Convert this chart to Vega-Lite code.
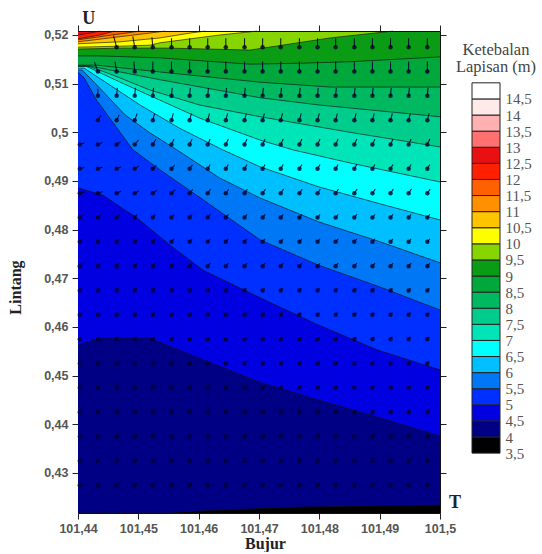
{"$schema":"https://vega.github.io/schema/vega-lite/v6.json","padding":{"left":7,"top":10,"right":0,"bottom":0},"background":"white","bounds":"flush","spacing":32,
"config":{"view":{"stroke":null},"axis":{"grid":false,"labelFont":"Liberation Sans","labelFontWeight":"bold","labelFontSize":12.5,"labelColor":"#555","tickColor":"#222","domainColor":"#111","tickSize":6,"labelFlush":false,"titleFont":"Liberation Serif","titleFontWeight":"bold","titleFontSize":16,"titleColor":"#222"}},
"datasets":{
"contours":[
{"level":3.5,"lon":101.44,"lat":0.4218},{"level":3.5,"lon":101.5,"lat":0.4218},
{"level":4,"lon":101.44,"lat":0.4218},{"level":4,"lon":101.4552,"lat":0.4218},{"level":4,"lon":101.4602,"lat":0.4222},{"level":4,"lon":101.4768,"lat":0.423},{"level":4,"lon":101.5,"lat":0.4234},
{"level":4.5,"lon":101.44,"lat":0.4563},{"level":4.5,"lon":101.4436,"lat":0.4577},{"level":4.5,"lon":101.4519,"lat":0.4577},{"level":4.5,"lon":101.4601,"lat":0.4536},{"level":4.5,"lon":101.47,"lat":0.4487},{"level":4.5,"lon":101.4799,"lat":0.445},{"level":4.5,"lon":101.4901,"lat":0.4413},{"level":4.5,"lon":101.5,"lat":0.4376},
{"level":5,"lon":101.44,"lat":0.4886},{"level":5,"lon":101.4441,"lat":0.4871},{"level":5,"lon":101.4498,"lat":0.4824},{"level":5,"lon":101.4552,"lat":0.4769},{"level":5,"lon":101.4607,"lat":0.4717},{"level":5,"lon":101.4702,"lat":0.466},{"level":5,"lon":101.4799,"lat":0.4604},{"level":5,"lon":101.4896,"lat":0.4553},{"level":5,"lon":101.5,"lat":0.4512},
{"level":5.5,"lon":101.44,"lat":0.5124},{"level":5.5,"lon":101.441,"lat":0.5112},{"level":5.5,"lon":101.4431,"lat":0.5066},{"level":5.5,"lon":101.4461,"lat":0.5015},{"level":5.5,"lon":101.4491,"lat":0.4964},{"level":5.5,"lon":101.4536,"lat":0.4923},{"level":5.5,"lon":101.4601,"lat":0.4867},{"level":5.5,"lon":101.4702,"lat":0.4779},{"level":5.5,"lon":101.4799,"lat":0.4727},{"level":5.5,"lon":101.4901,"lat":0.4682},{"level":5.5,"lon":101.5,"lat":0.4635},
{"level":6,"lon":101.44,"lat":0.5128},{"level":6,"lon":101.4407,"lat":0.5128},{"level":6,"lon":101.4436,"lat":0.5091},{"level":6,"lon":101.4478,"lat":0.5036},{"level":6,"lon":101.4519,"lat":0.4999},{"level":6,"lon":101.4564,"lat":0.4964},{"level":6,"lon":101.4635,"lat":0.4906},{"level":6,"lon":101.4702,"lat":0.4865},{"level":6,"lon":101.4799,"lat":0.4816},{"level":6,"lon":101.4901,"lat":0.4775},{"level":6,"lon":101.5,"lat":0.4732},
{"level":6.5,"lon":101.44,"lat":0.5132},{"level":6.5,"lon":101.441,"lat":0.5132},{"level":6.5,"lon":101.4453,"lat":0.5097},{"level":6.5,"lon":101.4503,"lat":0.5056},{"level":6.5,"lon":101.4569,"lat":0.5008},{"level":6.5,"lon":101.464,"lat":0.4964},{"level":6.5,"lon":101.4702,"lat":0.4929},{"level":6.5,"lon":101.4799,"lat":0.4888},{"level":6.5,"lon":101.4901,"lat":0.4853},{"level":6.5,"lon":101.5,"lat":0.482},
{"level":7,"lon":101.44,"lat":0.5136},{"level":7,"lon":101.4413,"lat":0.5136},{"level":7,"lon":101.447,"lat":0.5103},{"level":7,"lon":101.4536,"lat":0.5066},{"level":7,"lon":101.4602,"lat":0.5029},{"level":7,"lon":101.4702,"lat":0.4984},{"level":7,"lon":101.4756,"lat":0.4964},{"level":7,"lon":101.4851,"lat":0.4937},{"level":7,"lon":101.5,"lat":0.4898},
{"level":7.5,"lon":101.44,"lat":0.5136},{"level":7.5,"lon":101.4417,"lat":0.5136},{"level":7.5,"lon":101.4453,"lat":0.512},{"level":7.5,"lon":101.4519,"lat":0.5087},{"level":7.5,"lon":101.4602,"lat":0.5056},{"level":7.5,"lon":101.4702,"lat":0.5032},{"level":7.5,"lon":101.4851,"lat":0.5},{"level":7.5,"lon":101.5,"lat":0.497},
{"level":8,"lon":101.44,"lat":0.5136},{"level":8,"lon":101.442,"lat":0.5136},{"level":8,"lon":101.447,"lat":0.5124},{"level":8,"lon":101.4536,"lat":0.5108},{"level":8,"lon":101.4702,"lat":0.5071},{"level":8,"lon":101.4801,"lat":0.5056},{"level":8,"lon":101.5,"lat":0.5032},
{"level":8.5,"lon":101.44,"lat":0.5138},{"level":8.5,"lon":101.4415,"lat":0.5138},{"level":8.5,"lon":101.4431,"lat":0.5138},{"level":8.5,"lon":101.4536,"lat":0.5124},{"level":8.5,"lon":101.4702,"lat":0.5103},{"level":8.5,"lon":101.4818,"lat":0.5093},{"level":8.5,"lon":101.5,"lat":0.5093},
{"level":9,"lon":101.44,"lat":0.5157},{"level":9,"lon":101.4436,"lat":0.5157},{"level":9,"lon":101.4536,"lat":0.5153},{"level":9,"lon":101.4685,"lat":0.514},{"level":9,"lon":101.4768,"lat":0.5142},{"level":9,"lon":101.4851,"lat":0.5145},{"level":9,"lon":101.5,"lat":0.5155},
{"level":9.5,"lon":101.44,"lat":0.5171},{"level":9.5,"lon":101.447,"lat":0.5173},{"level":9.5,"lon":101.4552,"lat":0.5173},{"level":9.5,"lon":101.4685,"lat":0.5169},{"level":9.5,"lon":101.4818,"lat":0.5194},{"level":9.5,"lon":101.4922,"lat":0.5208},
{"level":10,"lon":101.44,"lat":0.5175},{"level":10,"lon":101.447,"lat":0.5177},{"level":10,"lon":101.4519,"lat":0.5179},{"level":10,"lon":101.4536,"lat":0.5184},{"level":10,"lon":101.4635,"lat":0.52},{"level":10,"lon":101.4697,"lat":0.5208},
{"level":10.5,"lon":101.44,"lat":0.5182},{"level":10.5,"lon":101.447,"lat":0.5186},{"level":10.5,"lon":101.4536,"lat":0.5194},{"level":10.5,"lon":101.4586,"lat":0.5204},{"level":10.5,"lon":101.4611,"lat":0.5208},
{"level":11,"lon":101.44,"lat":0.5186},{"level":11,"lon":101.4453,"lat":0.5194},{"level":11,"lon":101.4519,"lat":0.5204},{"level":11,"lon":101.4544,"lat":0.5208},
{"level":11.5,"lon":101.44,"lat":0.519},{"level":11.5,"lon":101.4445,"lat":0.5198},{"level":11.5,"lon":101.4503,"lat":0.5208},
{"level":12,"lon":101.44,"lat":0.5192},{"level":12,"lon":101.4436,"lat":0.52},{"level":12,"lon":101.4461,"lat":0.5208},
{"level":12.5,"lon":101.44,"lat":0.52},{"level":12.5,"lon":101.442,"lat":0.5204},{"level":12.5,"lon":101.4436,"lat":0.5208}
],
"arrows":[
{"lon":101.4464,"lat":0.5175,"m":12,"a":345},{"lon":101.4494,"lat":0.5175,"m":11,"a":350},{"lon":101.4524,"lat":0.5175,"m":10,"a":355},{"lon":101.4555,"lat":0.5175,"m":9,"a":0},{"lon":101.4585,"lat":0.5175,"m":9,"a":0},{"lon":101.4615,"lat":0.5175,"m":9,"a":0},{"lon":101.4645,"lat":0.5175,"m":9,"a":0},{"lon":101.4676,"lat":0.5175,"m":9,"a":0},{"lon":101.4706,"lat":0.5175,"m":9,"a":0},{"lon":101.4736,"lat":0.5175,"m":9,"a":0},{"lon":101.4767,"lat":0.5175,"m":9,"a":0},{"lon":101.4797,"lat":0.5175,"m":9,"a":0},{"lon":101.4827,"lat":0.5175,"m":9,"a":0},{"lon":101.4858,"lat":0.5175,"m":9,"a":0},{"lon":101.4888,"lat":0.5175,"m":9,"a":0},{"lon":101.4918,"lat":0.5175,"m":9,"a":0},{"lon":101.4948,"lat":0.5175,"m":9,"a":0},{"lon":101.4979,"lat":0.5175,"m":9,"a":0},
{"lon":101.4433,"lat":0.5125,"m":10,"a":340},{"lon":101.4464,"lat":0.5125,"m":10,"a":350},{"lon":101.4494,"lat":0.5125,"m":10,"a":355},{"lon":101.4524,"lat":0.5125,"m":10,"a":0},{"lon":101.4555,"lat":0.5125,"m":10,"a":0},{"lon":101.4585,"lat":0.5125,"m":10,"a":0},{"lon":101.4615,"lat":0.5125,"m":10,"a":0},{"lon":101.4645,"lat":0.5125,"m":10,"a":0},{"lon":101.4676,"lat":0.5125,"m":10,"a":0},{"lon":101.4706,"lat":0.5125,"m":10,"a":0},{"lon":101.4736,"lat":0.5125,"m":10,"a":0},{"lon":101.4767,"lat":0.5125,"m":10,"a":0},{"lon":101.4797,"lat":0.5125,"m":10,"a":0},{"lon":101.4827,"lat":0.5125,"m":10,"a":0},{"lon":101.4858,"lat":0.5125,"m":10,"a":0},{"lon":101.4888,"lat":0.5125,"m":10,"a":0},{"lon":101.4918,"lat":0.5125,"m":10,"a":0},{"lon":101.4948,"lat":0.5125,"m":10,"a":0},{"lon":101.4979,"lat":0.5125,"m":10,"a":0},
{"lon":101.4433,"lat":0.5075,"m":7,"a":0},{"lon":101.4464,"lat":0.5075,"m":8,"a":5},{"lon":101.4494,"lat":0.5075,"m":8,"a":5},{"lon":101.4524,"lat":0.5075,"m":8,"a":5},{"lon":101.4555,"lat":0.5075,"m":8,"a":5},{"lon":101.4585,"lat":0.5075,"m":8,"a":5},{"lon":101.4615,"lat":0.5075,"m":8,"a":5},{"lon":101.4645,"lat":0.5075,"m":8,"a":5},{"lon":101.4676,"lat":0.5075,"m":8,"a":5},{"lon":101.4706,"lat":0.5075,"m":8,"a":5},{"lon":101.4736,"lat":0.5075,"m":8,"a":5},{"lon":101.4767,"lat":0.5075,"m":8,"a":5},{"lon":101.4797,"lat":0.5075,"m":8,"a":5},{"lon":101.4827,"lat":0.5075,"m":8,"a":5},{"lon":101.4858,"lat":0.5075,"m":8,"a":5},{"lon":101.4888,"lat":0.5075,"m":8,"a":5},{"lon":101.4918,"lat":0.5075,"m":8,"a":5},{"lon":101.4948,"lat":0.5075,"m":8,"a":5},{"lon":101.4979,"lat":0.5075,"m":8,"a":5},
{"lon":101.4433,"lat":0.5025,"m":6,"a":30},{"lon":101.4464,"lat":0.5025,"m":6,"a":25},{"lon":101.4494,"lat":0.5025,"m":7,"a":20},{"lon":101.4524,"lat":0.5025,"m":7,"a":15},{"lon":101.4555,"lat":0.5025,"m":7,"a":15},{"lon":101.4585,"lat":0.5025,"m":7,"a":15},{"lon":101.4615,"lat":0.5025,"m":7,"a":15},{"lon":101.4645,"lat":0.5025,"m":7,"a":15},{"lon":101.4676,"lat":0.5025,"m":7,"a":15},{"lon":101.4706,"lat":0.5025,"m":7,"a":15},{"lon":101.4736,"lat":0.5025,"m":7,"a":15},{"lon":101.4767,"lat":0.5025,"m":7,"a":15},{"lon":101.4797,"lat":0.5025,"m":7,"a":15},{"lon":101.4827,"lat":0.5025,"m":7,"a":15},{"lon":101.4858,"lat":0.5025,"m":7,"a":15},{"lon":101.4888,"lat":0.5025,"m":7,"a":15},{"lon":101.4918,"lat":0.5025,"m":7,"a":15},{"lon":101.4948,"lat":0.5025,"m":7,"a":15},{"lon":101.4979,"lat":0.5025,"m":7,"a":15},
{"lon":101.4403,"lat":0.4975,"m":5,"a":70},{"lon":101.4433,"lat":0.4975,"m":5,"a":65},{"lon":101.4464,"lat":0.4975,"m":5,"a":55},{"lon":101.4494,"lat":0.4975,"m":6,"a":40},{"lon":101.4524,"lat":0.4975,"m":6,"a":30},{"lon":101.4555,"lat":0.4975,"m":6,"a":25},{"lon":101.4585,"lat":0.4975,"m":6,"a":25},{"lon":101.4615,"lat":0.4975,"m":6,"a":25},{"lon":101.4645,"lat":0.4975,"m":6,"a":25},{"lon":101.4676,"lat":0.4975,"m":6,"a":25},{"lon":101.4706,"lat":0.4975,"m":6,"a":25},{"lon":101.4736,"lat":0.4975,"m":6,"a":25},{"lon":101.4767,"lat":0.4975,"m":6,"a":25},{"lon":101.4797,"lat":0.4975,"m":6,"a":25},{"lon":101.4827,"lat":0.4975,"m":6,"a":25},{"lon":101.4858,"lat":0.4975,"m":6,"a":25},{"lon":101.4888,"lat":0.4975,"m":6,"a":25},{"lon":101.4918,"lat":0.4975,"m":6,"a":25},{"lon":101.4948,"lat":0.4975,"m":6,"a":25},{"lon":101.4979,"lat":0.4975,"m":6,"a":25},
{"lon":101.4403,"lat":0.4925,"m":5,"a":75},{"lon":101.4433,"lat":0.4925,"m":5,"a":70},{"lon":101.4464,"lat":0.4925,"m":5,"a":65},{"lon":101.4494,"lat":0.4925,"m":5,"a":55},{"lon":101.4524,"lat":0.4925,"m":5,"a":45},{"lon":101.4555,"lat":0.4925,"m":5,"a":40},{"lon":101.4585,"lat":0.4925,"m":5,"a":35},{"lon":101.4615,"lat":0.4925,"m":5,"a":30},{"lon":101.4645,"lat":0.4925,"m":5,"a":30},{"lon":101.4676,"lat":0.4925,"m":5,"a":30},{"lon":101.4706,"lat":0.4925,"m":5,"a":30},{"lon":101.4736,"lat":0.4925,"m":5,"a":30},{"lon":101.4767,"lat":0.4925,"m":5,"a":30},{"lon":101.4797,"lat":0.4925,"m":5,"a":30},{"lon":101.4827,"lat":0.4925,"m":5,"a":30},{"lon":101.4858,"lat":0.4925,"m":5,"a":30},{"lon":101.4888,"lat":0.4925,"m":5,"a":30},{"lon":101.4918,"lat":0.4925,"m":5,"a":30},{"lon":101.4948,"lat":0.4925,"m":5,"a":30},{"lon":101.4979,"lat":0.4925,"m":5,"a":30},
{"lon":101.4403,"lat":0.4875,"m":5,"a":75},{"lon":101.4433,"lat":0.4875,"m":5,"a":70},{"lon":101.4464,"lat":0.4875,"m":5,"a":65},{"lon":101.4494,"lat":0.4875,"m":5,"a":60},{"lon":101.4524,"lat":0.4875,"m":5,"a":55},{"lon":101.4555,"lat":0.4875,"m":5,"a":45},{"lon":101.4585,"lat":0.4875,"m":5,"a":40},{"lon":101.4615,"lat":0.4875,"m":5,"a":35},{"lon":101.4645,"lat":0.4875,"m":5,"a":35},{"lon":101.4676,"lat":0.4875,"m":5,"a":35},{"lon":101.4706,"lat":0.4875,"m":5,"a":35},{"lon":101.4736,"lat":0.4875,"m":5,"a":35},{"lon":101.4767,"lat":0.4875,"m":5,"a":35},{"lon":101.4797,"lat":0.4875,"m":5,"a":35},{"lon":101.4827,"lat":0.4875,"m":5,"a":35},{"lon":101.4858,"lat":0.4875,"m":5,"a":35},{"lon":101.4888,"lat":0.4875,"m":5,"a":35},{"lon":101.4918,"lat":0.4875,"m":5,"a":35},{"lon":101.4948,"lat":0.4875,"m":5,"a":35},{"lon":101.4979,"lat":0.4875,"m":5,"a":35},
{"lon":101.4403,"lat":0.4825,"m":4,"a":40},{"lon":101.4433,"lat":0.4825,"m":4,"a":40},{"lon":101.4464,"lat":0.4825,"m":4,"a":40},{"lon":101.4494,"lat":0.4825,"m":4,"a":40},{"lon":101.4524,"lat":0.4825,"m":4,"a":40},{"lon":101.4555,"lat":0.4825,"m":4,"a":40},{"lon":101.4585,"lat":0.4825,"m":4,"a":40},{"lon":101.4615,"lat":0.4825,"m":4,"a":40},{"lon":101.4645,"lat":0.4825,"m":4,"a":40},{"lon":101.4676,"lat":0.4825,"m":4,"a":40},{"lon":101.4706,"lat":0.4825,"m":4,"a":40},{"lon":101.4736,"lat":0.4825,"m":4,"a":40},{"lon":101.4767,"lat":0.4825,"m":4,"a":40},{"lon":101.4797,"lat":0.4825,"m":4,"a":40},{"lon":101.4827,"lat":0.4825,"m":4,"a":40},{"lon":101.4858,"lat":0.4825,"m":4,"a":40},{"lon":101.4888,"lat":0.4825,"m":4,"a":40},{"lon":101.4918,"lat":0.4825,"m":4,"a":40},{"lon":101.4948,"lat":0.4825,"m":4,"a":40},{"lon":101.4979,"lat":0.4825,"m":4,"a":40},
{"lon":101.4403,"lat":0.4775,"m":4,"a":40},{"lon":101.4433,"lat":0.4775,"m":4,"a":40},{"lon":101.4464,"lat":0.4775,"m":4,"a":40},{"lon":101.4494,"lat":0.4775,"m":4,"a":40},{"lon":101.4524,"lat":0.4775,"m":4,"a":40},{"lon":101.4555,"lat":0.4775,"m":4,"a":40},{"lon":101.4585,"lat":0.4775,"m":4,"a":40},{"lon":101.4615,"lat":0.4775,"m":4,"a":40},{"lon":101.4645,"lat":0.4775,"m":4,"a":40},{"lon":101.4676,"lat":0.4775,"m":4,"a":40},{"lon":101.4706,"lat":0.4775,"m":4,"a":40},{"lon":101.4736,"lat":0.4775,"m":4,"a":40},{"lon":101.4767,"lat":0.4775,"m":4,"a":40},{"lon":101.4797,"lat":0.4775,"m":4,"a":40},{"lon":101.4827,"lat":0.4775,"m":4,"a":40},{"lon":101.4858,"lat":0.4775,"m":4,"a":40},{"lon":101.4888,"lat":0.4775,"m":4,"a":40},{"lon":101.4918,"lat":0.4775,"m":4,"a":40},{"lon":101.4948,"lat":0.4775,"m":4,"a":40},{"lon":101.4979,"lat":0.4775,"m":4,"a":40},
{"lon":101.4403,"lat":0.4725,"m":4,"a":40},{"lon":101.4433,"lat":0.4725,"m":4,"a":40},{"lon":101.4464,"lat":0.4725,"m":4,"a":40},{"lon":101.4494,"lat":0.4725,"m":4,"a":40},{"lon":101.4524,"lat":0.4725,"m":4,"a":40},{"lon":101.4555,"lat":0.4725,"m":4,"a":40},{"lon":101.4585,"lat":0.4725,"m":4,"a":40},{"lon":101.4615,"lat":0.4725,"m":4,"a":40},{"lon":101.4645,"lat":0.4725,"m":4,"a":40},{"lon":101.4676,"lat":0.4725,"m":4,"a":40},{"lon":101.4706,"lat":0.4725,"m":4,"a":40},{"lon":101.4736,"lat":0.4725,"m":4,"a":40},{"lon":101.4767,"lat":0.4725,"m":4,"a":40},{"lon":101.4797,"lat":0.4725,"m":4,"a":40},{"lon":101.4827,"lat":0.4725,"m":4,"a":40},{"lon":101.4858,"lat":0.4725,"m":4,"a":40},{"lon":101.4888,"lat":0.4725,"m":4,"a":40},{"lon":101.4918,"lat":0.4725,"m":4,"a":40},{"lon":101.4948,"lat":0.4725,"m":4,"a":40},{"lon":101.4979,"lat":0.4725,"m":4,"a":40},
{"lon":101.4403,"lat":0.4675,"m":3,"a":40},{"lon":101.4433,"lat":0.4675,"m":3,"a":40},{"lon":101.4464,"lat":0.4675,"m":3,"a":40},{"lon":101.4494,"lat":0.4675,"m":3,"a":40},{"lon":101.4524,"lat":0.4675,"m":3,"a":40},{"lon":101.4555,"lat":0.4675,"m":3,"a":40},{"lon":101.4585,"lat":0.4675,"m":3,"a":40},{"lon":101.4615,"lat":0.4675,"m":3,"a":40},{"lon":101.4645,"lat":0.4675,"m":3,"a":40},{"lon":101.4676,"lat":0.4675,"m":3,"a":40},{"lon":101.4706,"lat":0.4675,"m":3,"a":40},{"lon":101.4736,"lat":0.4675,"m":3,"a":40},{"lon":101.4767,"lat":0.4675,"m":3,"a":40},{"lon":101.4797,"lat":0.4675,"m":3,"a":40},{"lon":101.4827,"lat":0.4675,"m":3,"a":40},{"lon":101.4858,"lat":0.4675,"m":3,"a":40},{"lon":101.4888,"lat":0.4675,"m":3,"a":40},{"lon":101.4918,"lat":0.4675,"m":3,"a":40},{"lon":101.4948,"lat":0.4675,"m":3,"a":40},{"lon":101.4979,"lat":0.4675,"m":3,"a":40},
{"lon":101.4403,"lat":0.4625,"m":3,"a":40},{"lon":101.4433,"lat":0.4625,"m":3,"a":40},{"lon":101.4464,"lat":0.4625,"m":3,"a":40},{"lon":101.4494,"lat":0.4625,"m":3,"a":40},{"lon":101.4524,"lat":0.4625,"m":3,"a":40},{"lon":101.4555,"lat":0.4625,"m":3,"a":40},{"lon":101.4585,"lat":0.4625,"m":3,"a":40},{"lon":101.4615,"lat":0.4625,"m":3,"a":40},{"lon":101.4645,"lat":0.4625,"m":3,"a":40},{"lon":101.4676,"lat":0.4625,"m":3,"a":40},{"lon":101.4706,"lat":0.4625,"m":3,"a":40},{"lon":101.4736,"lat":0.4625,"m":3,"a":40},{"lon":101.4767,"lat":0.4625,"m":3,"a":40},{"lon":101.4797,"lat":0.4625,"m":3,"a":40},{"lon":101.4827,"lat":0.4625,"m":3,"a":40},{"lon":101.4858,"lat":0.4625,"m":3,"a":40},{"lon":101.4888,"lat":0.4625,"m":3,"a":40},{"lon":101.4918,"lat":0.4625,"m":3,"a":40},{"lon":101.4948,"lat":0.4625,"m":3,"a":40},{"lon":101.4979,"lat":0.4625,"m":3,"a":40},
{"lon":101.4403,"lat":0.4575,"m":3,"a":40},{"lon":101.4433,"lat":0.4575,"m":3,"a":40},{"lon":101.4464,"lat":0.4575,"m":3,"a":40},{"lon":101.4494,"lat":0.4575,"m":3,"a":40},{"lon":101.4524,"lat":0.4575,"m":3,"a":40},{"lon":101.4555,"lat":0.4575,"m":3,"a":40},{"lon":101.4585,"lat":0.4575,"m":3,"a":40},{"lon":101.4615,"lat":0.4575,"m":3,"a":40},{"lon":101.4645,"lat":0.4575,"m":3,"a":40},{"lon":101.4676,"lat":0.4575,"m":3,"a":40},{"lon":101.4706,"lat":0.4575,"m":3,"a":40},{"lon":101.4736,"lat":0.4575,"m":3,"a":40},{"lon":101.4767,"lat":0.4575,"m":3,"a":40},{"lon":101.4797,"lat":0.4575,"m":3,"a":40},{"lon":101.4827,"lat":0.4575,"m":3,"a":40},{"lon":101.4858,"lat":0.4575,"m":3,"a":40},{"lon":101.4888,"lat":0.4575,"m":3,"a":40},{"lon":101.4918,"lat":0.4575,"m":3,"a":40},{"lon":101.4948,"lat":0.4575,"m":3,"a":40},{"lon":101.4979,"lat":0.4575,"m":3,"a":40},
{"lon":101.4403,"lat":0.4525,"m":3,"a":40},{"lon":101.4433,"lat":0.4525,"m":3,"a":40},{"lon":101.4464,"lat":0.4525,"m":3,"a":40},{"lon":101.4494,"lat":0.4525,"m":3,"a":40},{"lon":101.4524,"lat":0.4525,"m":3,"a":40},{"lon":101.4555,"lat":0.4525,"m":3,"a":40},{"lon":101.4585,"lat":0.4525,"m":3,"a":40},{"lon":101.4615,"lat":0.4525,"m":3,"a":40},{"lon":101.4645,"lat":0.4525,"m":3,"a":40},{"lon":101.4676,"lat":0.4525,"m":3,"a":40},{"lon":101.4706,"lat":0.4525,"m":3,"a":40},{"lon":101.4736,"lat":0.4525,"m":3,"a":40},{"lon":101.4767,"lat":0.4525,"m":3,"a":40},{"lon":101.4797,"lat":0.4525,"m":3,"a":40},{"lon":101.4827,"lat":0.4525,"m":3,"a":40},{"lon":101.4858,"lat":0.4525,"m":3,"a":40},{"lon":101.4888,"lat":0.4525,"m":3,"a":40},{"lon":101.4918,"lat":0.4525,"m":3,"a":40},{"lon":101.4948,"lat":0.4525,"m":3,"a":40},{"lon":101.4979,"lat":0.4525,"m":3,"a":40},
{"lon":101.4403,"lat":0.4475,"m":3,"a":40},{"lon":101.4433,"lat":0.4475,"m":3,"a":40},{"lon":101.4464,"lat":0.4475,"m":3,"a":40},{"lon":101.4494,"lat":0.4475,"m":3,"a":40},{"lon":101.4524,"lat":0.4475,"m":3,"a":40},{"lon":101.4555,"lat":0.4475,"m":3,"a":40},{"lon":101.4585,"lat":0.4475,"m":3,"a":40},{"lon":101.4615,"lat":0.4475,"m":3,"a":40},{"lon":101.4645,"lat":0.4475,"m":3,"a":40},{"lon":101.4676,"lat":0.4475,"m":3,"a":40},{"lon":101.4706,"lat":0.4475,"m":3,"a":40},{"lon":101.4736,"lat":0.4475,"m":3,"a":40},{"lon":101.4767,"lat":0.4475,"m":3,"a":40},{"lon":101.4797,"lat":0.4475,"m":3,"a":40},{"lon":101.4827,"lat":0.4475,"m":3,"a":40},{"lon":101.4858,"lat":0.4475,"m":3,"a":40},{"lon":101.4888,"lat":0.4475,"m":3,"a":40},{"lon":101.4918,"lat":0.4475,"m":3,"a":40},{"lon":101.4948,"lat":0.4475,"m":3,"a":40},{"lon":101.4979,"lat":0.4475,"m":3,"a":40},
{"lon":101.4403,"lat":0.4425,"m":3,"a":40},{"lon":101.4433,"lat":0.4425,"m":3,"a":40},{"lon":101.4464,"lat":0.4425,"m":3,"a":40},{"lon":101.4494,"lat":0.4425,"m":3,"a":40},{"lon":101.4524,"lat":0.4425,"m":3,"a":40},{"lon":101.4555,"lat":0.4425,"m":3,"a":40},{"lon":101.4585,"lat":0.4425,"m":3,"a":40},{"lon":101.4615,"lat":0.4425,"m":3,"a":40},{"lon":101.4645,"lat":0.4425,"m":3,"a":40},{"lon":101.4676,"lat":0.4425,"m":3,"a":40},{"lon":101.4706,"lat":0.4425,"m":3,"a":40},{"lon":101.4736,"lat":0.4425,"m":3,"a":40},{"lon":101.4767,"lat":0.4425,"m":3,"a":40},{"lon":101.4797,"lat":0.4425,"m":3,"a":40},{"lon":101.4827,"lat":0.4425,"m":3,"a":40},{"lon":101.4858,"lat":0.4425,"m":3,"a":40},{"lon":101.4888,"lat":0.4425,"m":3,"a":40},{"lon":101.4918,"lat":0.4425,"m":3,"a":40},{"lon":101.4948,"lat":0.4425,"m":3,"a":40},{"lon":101.4979,"lat":0.4425,"m":3,"a":40},
{"lon":101.4403,"lat":0.4375,"m":3,"a":40},{"lon":101.4433,"lat":0.4375,"m":3,"a":40},{"lon":101.4464,"lat":0.4375,"m":3,"a":40},{"lon":101.4494,"lat":0.4375,"m":3,"a":40},{"lon":101.4524,"lat":0.4375,"m":3,"a":40},{"lon":101.4555,"lat":0.4375,"m":3,"a":40},{"lon":101.4585,"lat":0.4375,"m":3,"a":40},{"lon":101.4615,"lat":0.4375,"m":3,"a":40},{"lon":101.4645,"lat":0.4375,"m":3,"a":40},{"lon":101.4676,"lat":0.4375,"m":3,"a":40},{"lon":101.4706,"lat":0.4375,"m":3,"a":40},{"lon":101.4736,"lat":0.4375,"m":3,"a":40},{"lon":101.4767,"lat":0.4375,"m":3,"a":40},{"lon":101.4797,"lat":0.4375,"m":3,"a":40},{"lon":101.4827,"lat":0.4375,"m":3,"a":40},{"lon":101.4858,"lat":0.4375,"m":3,"a":40},{"lon":101.4888,"lat":0.4375,"m":3,"a":40},{"lon":101.4918,"lat":0.4375,"m":3,"a":40},{"lon":101.4948,"lat":0.4375,"m":3,"a":40},{"lon":101.4979,"lat":0.4375,"m":3,"a":40},
{"lon":101.4403,"lat":0.4325,"m":3,"a":40},{"lon":101.4433,"lat":0.4325,"m":3,"a":40},{"lon":101.4464,"lat":0.4325,"m":3,"a":40},{"lon":101.4494,"lat":0.4325,"m":3,"a":40},{"lon":101.4524,"lat":0.4325,"m":3,"a":40},{"lon":101.4555,"lat":0.4325,"m":3,"a":40},{"lon":101.4585,"lat":0.4325,"m":3,"a":40},{"lon":101.4615,"lat":0.4325,"m":3,"a":40},{"lon":101.4645,"lat":0.4325,"m":3,"a":40},{"lon":101.4676,"lat":0.4325,"m":3,"a":40},{"lon":101.4706,"lat":0.4325,"m":3,"a":40},{"lon":101.4736,"lat":0.4325,"m":3,"a":40},{"lon":101.4767,"lat":0.4325,"m":3,"a":40},{"lon":101.4797,"lat":0.4325,"m":3,"a":40},{"lon":101.4827,"lat":0.4325,"m":3,"a":40},{"lon":101.4858,"lat":0.4325,"m":3,"a":40},{"lon":101.4888,"lat":0.4325,"m":3,"a":40},{"lon":101.4918,"lat":0.4325,"m":3,"a":40},{"lon":101.4948,"lat":0.4325,"m":3,"a":40},{"lon":101.4979,"lat":0.4325,"m":3,"a":40},
{"lon":101.4403,"lat":0.4275,"m":3,"a":40},{"lon":101.4433,"lat":0.4275,"m":3,"a":40},{"lon":101.4464,"lat":0.4275,"m":3,"a":40},{"lon":101.4494,"lat":0.4275,"m":3,"a":40},{"lon":101.4524,"lat":0.4275,"m":3,"a":40},{"lon":101.4555,"lat":0.4275,"m":3,"a":40},{"lon":101.4585,"lat":0.4275,"m":3,"a":40},{"lon":101.4615,"lat":0.4275,"m":3,"a":40},{"lon":101.4645,"lat":0.4275,"m":3,"a":40},{"lon":101.4676,"lat":0.4275,"m":3,"a":40},{"lon":101.4706,"lat":0.4275,"m":3,"a":40},{"lon":101.4736,"lat":0.4275,"m":3,"a":40},{"lon":101.4767,"lat":0.4275,"m":3,"a":40},{"lon":101.4797,"lat":0.4275,"m":3,"a":40},{"lon":101.4827,"lat":0.4275,"m":3,"a":40},{"lon":101.4858,"lat":0.4275,"m":3,"a":40},{"lon":101.4888,"lat":0.4275,"m":3,"a":40},{"lon":101.4918,"lat":0.4275,"m":3,"a":40},{"lon":101.4948,"lat":0.4275,"m":3,"a":40},{"lon":101.4979,"lat":0.4275,"m":3,"a":40}
],
"notes":[{"label":"U","lon":101.4418,"lat":0.5232},{"label":"T","lon":101.5025,"lat":0.4238}],
"bar":[{"level":3.5,"top":4},{"level":4,"top":4.5},{"level":4.5,"top":5},{"level":5,"top":5.5},{"level":5.5,"top":6},{"level":6,"top":6.5},{"level":6.5,"top":7},{"level":7,"top":7.5},{"level":7.5,"top":8},{"level":8,"top":8.5},{"level":8.5,"top":9},{"level":9,"top":9.5},{"level":9.5,"top":10},{"level":10,"top":10.5},{"level":10.5,"top":11},{"level":11,"top":11.5},{"level":11.5,"top":12},{"level":12,"top":12.5},{"level":12.5,"top":13},{"level":13,"top":13.5},{"level":13.5,"top":14},{"level":14,"top":14.5},{"level":14.5,"top":15}],
"barTitle":[{"label":"Ketebalan","level":16.02},{"label":"Lapisan (m)","level":15.49}]
},
"hconcat":[
{"width":362,"height":482,
"resolve":{"axis":{"x":"independent","y":"independent"}},
"encoding":{"x":{"field":"lon","type":"quantitative","axis":null,"scale":{"domain":[101.44,101.5],"nice":false,"zero":false}},"y":{"field":"lat","type":"quantitative","axis":null,"scale":{"domain":[0.42178,0.52082],"nice":false,"zero":false}}},
"layer":[
{"data":{"name":"contours"},"mark":{"type":"area","interpolate":"linear","opacity":1},
"encoding":{
"x":{"field":"lon","type":"quantitative","scale":{"domain":[101.44,101.5],"nice":false,"zero":false},"axis":{"orient":"bottom","values":[101.44,101.45,101.46,101.47,101.48,101.49,101.5],"labelExpr":"replace(toString(datum.value),'.',',')","title":"Bujur","titleX":187,"titlePadding":1,"labelPadding":3,"labelOverlap":false}},
"y":{"field":"lat","type":"quantitative","scale":{"domain":[0.42178,0.52082],"nice":false,"zero":false},"axis":{"orient":"left","values":[0.43,0.44,0.45,0.46,0.47,0.48,0.49,0.5,0.51,0.52],"labelExpr":"replace(toString(datum.value),'.',',')","title":"Lintang","titleY":256,"titlePadding":20,"labelPadding":4,"labelOverlap":false}},
"y2":{"datum":0.52082},
"color":{"field":"level","type":"ordinal","legend":null,"scale":{"domain":[3.5,4,4.5,5,5.5,6,6.5,7,7.5,8,8.5,9,9.5,10,10.5,11,11.5,12,12.5,13,13.5,14,14.5],"range":["#000000","#000085","#0000e0","#0030ff","#0078f5","#00bfff","#00ffff","#00e5b8","#00cd8c","#00b860","#00a83c","#0a9c14","#86d400","#ffff00","#ffc400","#ff9000","#ff6000","#ff2000","#e81010","#ff7070","#ffb0b0","#ffeaea","#ffffff"]}}}},
{"data":{"name":"contours"},"transform":[{"filter":"datum.level>3.5"}],"mark":{"type":"line","stroke":"#111","strokeWidth":0.8,"opacity":0.8},
"encoding":{
"x":{"field":"lon","type":"quantitative","scale":{"domain":[101.44,101.5],"nice":false,"zero":false},"axis":{"orient":"top","values":[101.44,101.45,101.46,101.47,101.48,101.49,101.5],"labels":false,"title":null,"zindex":1}},
"y":{"field":"lat","type":"quantitative","scale":{"domain":[0.42178,0.52082],"nice":false,"zero":false},"axis":{"orient":"right","values":[0.43,0.44,0.45,0.46,0.47,0.48,0.49,0.5,0.51,0.52],"labels":false,"title":null,"zindex":1}},
"detail":{"field":"level"}}},
{"data":{"name":"arrows"},"mark":{"type":"point","shape":"M0,-1L0,0","filled":false,"stroke":"#00002a","strokeWidth":1.1,"opacity":0.85},
"encoding":{"size":{"field":"m","type":"quantitative","legend":null,"scale":{"type":"pow","exponent":2,"domain":[0,12],"range":[0,576]}},"angle":{"field":"a","type":"quantitative","scale":null}}},
{"data":{"name":"arrows"},"mark":{"type":"circle","size":20,"fill":"#00002a","opacity":0.8}},
{"data":{"name":"notes"},"mark":{"type":"text","font":"Liberation Serif","fontWeight":"bold","fontSize":18,"fill":"#222"},"encoding":{"text":{"field":"label"}}}
]},
{"width":28,"height":482,
"encoding":{"y":{"field":"level","type":"quantitative","scale":{"domain":[1.64,16.61],"nice":false,"zero":false},"axis":{"orient":"right","domain":false,"ticks":false,"values":[3.5,4,4.5,5,5.5,6,6.5,7,7.5,8,8.5,9,9.5,10,10.5,11,11.5,12,12.5,13,13.5,14,14.5],"labelExpr":"replace(toString(datum.value),'.',',')","labelFont":"Liberation Serif","labelFontWeight":"normal","labelFontSize":15,"labelColor":"#555","labelPadding":5,"labelOverlap":false,"title":null}}},
"layer":[
{"data":{"name":"bar"},"mark":{"type":"rect","stroke":"#222","strokeWidth":1},
"encoding":{
"y2":{"field":"top"},
"color":{"field":"level","type":"ordinal","legend":null,"scale":{"domain":[3.5,4,4.5,5,5.5,6,6.5,7,7.5,8,8.5,9,9.5,10,10.5,11,11.5,12,12.5,13,13.5,14,14.5],"range":["#000000","#000050","#0000d0","#0020ff","#0078f5","#00bfff","#00ffff","#00e5b8","#00cd8c","#00b860","#00a83c","#0a9c14","#86d400","#ffff00","#ffc400","#ff9000","#ff6000","#ff2000","#ff2030","#ff7070","#ffb0b0","#ffeaea","#ffffff"]}}}},
{"data":{"name":"barTitle"},"mark":{"type":"text","font":"Liberation Serif","fontSize":16.5,"fill":"#444","dx":10},
"encoding":{"text":{"field":"label"}}}
]}
]}
